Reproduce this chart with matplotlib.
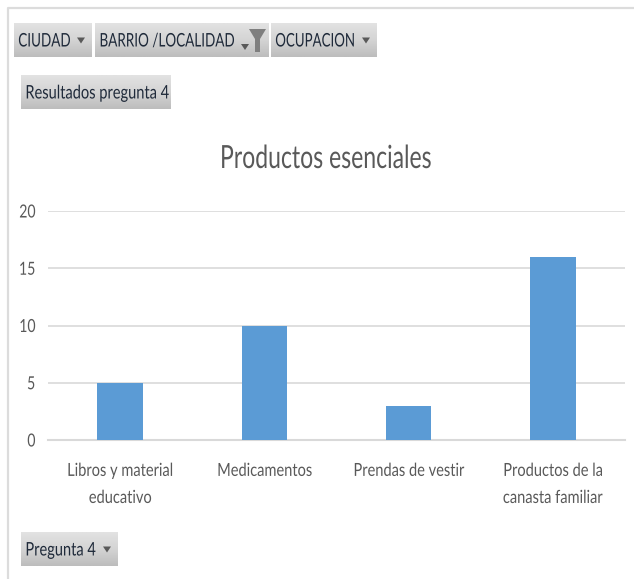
import matplotlib
matplotlib.use('Agg')
import matplotlib.pyplot as plt
import matplotlib.patheffects as pe
from matplotlib.transforms import Affine2D
import numpy as np
from matplotlib.patches import Polygon

categorias = ['Libros y material\neducativo', 'Medicamentos', 'Prendas de vestir', 'Productos de la\ncanasta familiar']
valores = [5, 10, 3, 16]
ticks_y = [0, 5, 10, 15, 20]
titulo = 'Productos esenciales'

W, H = 634, 579
plt.rcParams['font.family'] = ['Lato', 'DejaVu Sans']


class Angosto(pe.AbstractPathEffect):
    # comprime el texto en horizontal, no hay fuente narrow instalada
    def __init__(self, factor, ancla='center'):
        super().__init__()
        self.factor = factor
        self.ancla = ancla

    def draw_path(self, renderer, gc, tpath, affine, rgbFace=None):
        ext = affine.transform_path(tpath).get_extents()
        x0 = {'left': ext.x0, 'right': ext.x1}.get(self.ancla, (ext.x0 + ext.x1) / 2)
        nuevo = affine + Affine2D().translate(-x0, 0).scale(self.factor, 1).translate(x0, 0)
        renderer.draw_path(gc, tpath, nuevo, rgbFace)


fig = plt.figure(figsize=(W / 100, H / 100), dpi=100, facecolor='white')

# capa en pixeles para el marco y los botones
capa = fig.add_axes([0, 0, 1, 1])
capa.axis('off')

capa.plot([8, 8, W], [H, 8, 8], color='#dcdcdc', lw=1.6)

degradado = np.linspace(0, 1, 32).reshape(-1, 1)
cmap_boton = matplotlib.colors.LinearSegmentedColormap.from_list('boton', ['#e2e2e2', '#d4d4d4', '#bdbdbd'])


def triangulo(x, y):
    capa.add_patch(Polygon([[x - 4, y - 3], [x + 4, y - 3], [x, y + 3]], color='#595959', lw=0, zorder=4))


def boton(x0, x1, y0, y1, texto, factor, flecha=None):
    capa.imshow(degradado, extent=(x0, x1, y1, y0), cmap=cmap_boton, aspect='auto', zorder=2)
    t = capa.text(x0 + 4, (y0 + y1) / 2 + 1, texto, fontsize=13.5, color='#1f2a3a', va='center', ha='left', zorder=5)
    t.set_path_effects([Angosto(factor, 'left')])
    if flecha:
        triangulo(flecha, (y0 + y1) / 2 + 0.5)


boton(14, 92, 23, 57, 'CIUDAD', 0.72, 81)
boton(95, 269, 23, 57, 'BARRIO /LOCALIDAD', 0.72)
boton(271, 377, 23, 57, 'OCUPACION', 0.71, 366)
boton(21, 171, 75, 109, 'Resultados pregunta 4', 0.78)
boton(21, 118, 532, 566, 'Pregunta 4', 0.78, 107)

# flecha y embudo del filtro
triangulo(245, 47)
capa.add_patch(Polygon([[249, 29], [266, 29], [260, 39], [260, 52], [255, 52], [255, 39]], color='#7f7f7f', lw=0, zorder=4))
capa.set_xlim(0, W)
capa.set_ylim(H, 0)

# grafico de barras
ax = fig.add_axes([48 / W, 1 - 440 / H, 577 / W, 229 / H])
ax.patch.set_alpha(0)
x = np.arange(len(valores))
ax.bar(x, valores, width=0.315, color='#5b9bd5', zorder=3)
ax.set_xlim(-0.5, 3.5)
ax.set_ylim(0, 20)
ax.set_yticks(ticks_y)
ax.set_xticks(x)
ax.set_xticklabels(categorias, linespacing=1.85)
ax.tick_params(axis='both', length=0, labelsize=13, labelcolor='#595959')
ax.tick_params(axis='x', pad=16.5)
ax.tick_params(axis='y', pad=9)
for etiqueta in ax.get_xticklabels():
    etiqueta.set_path_effects([Angosto(0.81)])
for etiqueta in ax.get_yticklabels():
    etiqueta.set_path_effects([Angosto(0.78, 'right')])
ax.grid(axis='y', color='#d9d9d9', lw=1.2, zorder=0)
for lado in ['top', 'right', 'left']:
    ax.spines[lado].set_visible(False)
ax.spines['bottom'].set_color('#d9d9d9')
ax.spines['bottom'].set_linewidth(1.5)

t = fig.text(326 / W, 1 - 159 / H, titulo, fontsize=23, color='#595959', ha='center', va='center')
t.set_path_effects([Angosto(0.72)])

fig.savefig('out.png', dpi=100)
